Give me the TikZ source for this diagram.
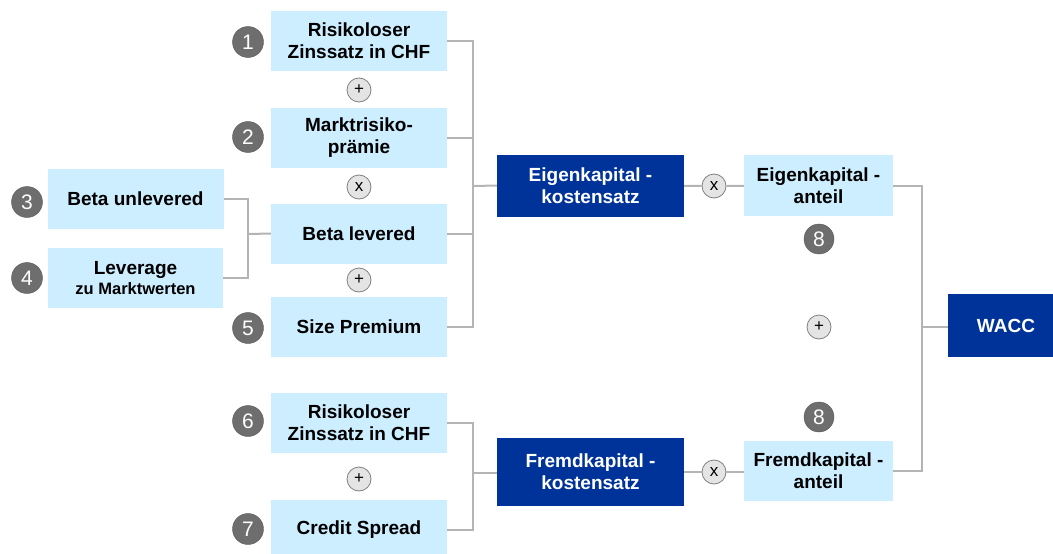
\documentclass[tikz,border=0pt]{standalone}
\usepackage{fontspec}
\setmainfont{Liberation Sans}
\definecolor{boxblue}{HTML}{CCEEFF}
\definecolor{darkblue}{HTML}{003399}
\definecolor{linegray}{HTML}{B4B4B4}
\definecolor{numgray}{HTML}{6E6E6E}
\definecolor{opgray}{HTML}{E4E4E4}
\tikzset{
  lbox/.style={fill=boxblue, minimum width=176pt, minimum height=60pt, inner sep=0pt, align=center, font=\bfseries\fontsize{19}{22}\selectfont},
  dbox/.style={fill=darkblue, text=white, minimum width=187pt, minimum height=62pt, inner sep=0pt, align=center, font=\bfseries\fontsize{19}{22}\selectfont},
  num/.style={circle, fill=numgray, draw=numgray!80!black, text=white, minimum size=31pt, inner sep=0pt, font=\fontsize{21}{21}\selectfont},
  op/.style={circle, fill=opgray, draw=gray, line width=0.8pt, minimum size=24pt, inner sep=0pt, font=\fontsize{17}{17}\selectfont},
  link/.style={draw=linegray, line width=2pt}
}
\begin{document}
\begin{tikzpicture}[x=1pt,y=-1pt]
\clip (0,0) rectangle (1053,554);
\node[lbox] (rf1) at (359,41){Risikoloser\\Zinssatz in CHF};
\node[lbox] (mrp) at (359,137.5){Marktrisiko-\\prämie};
\node[lbox] (bl) at (359,233.5){Beta levered};
\node[lbox] (sp) at (359,326.5){Size Premium};
\node[lbox] (bu) at (135.5,199){Beta unlevered};
\node[lbox, minimum width=175pt, align=center] (lev) at (135.5,278){Leverage\\[-2pt]{\fontsize{16.5}{18}\selectfont zu Marktwerten}};
\node[lbox] (rf2) at (359,422.5){Risikoloser\\Zinssatz in CHF};
\node[lbox] (cs) at (359,530){Credit Spread};
\node[num] (n1) at (248,42){1};
\node[num] (n2) at (248,137){2};
\node[num] (n3) at (27,202){3};
\node[num] (n4) at (27,278){4};
\node[num] (n5) at (248,328){5};
\node[num] (n6) at (248,421){6};
\node[num] (n7) at (248,529){7};
\node[op] (op1) at (359,90){+};
\node[op] (op2) at (359,187){x};
\node[op] (op3) at (359,280){+};
\node[op] (op4) at (359,479){+};
\node[dbox] (ekks) at (590.5,185.5){Eigenkapital -\\kostensatz};
\node[dbox, minimum height=68pt] (fkks) at (590.5,471.5){Fremdkapital -\\kostensatz};
\node[op] (xek) at (714,186){x};
\node[op] (xfk) at (714,472){x};
\node[lbox, minimum width=149pt, minimum height=61pt] (eka) at (818.5,185.5){Eigenkapital -\\anteil};
\node[lbox, minimum width=149pt] (fka) at (818.5,471){Fremdkapital -\\anteil};
\node[num, minimum size=30pt] (n8a) at (819,239){8};
\node[op] (op5) at (819,327){+};
\node[num, minimum size=30pt] (n8b) at (819,417){8};
\node[dbox, minimum width=116pt, minimum height=63pt] (wacc) at (1006,325.5){WACC};
\coordinate (jbeta) at (248,234);
\coordinate (jek) at (473,186);
\coordinate (jfk) at (473,473);
\coordinate (jw) at (922,327);
\draw[link] (bu.east) -| (jbeta);
\draw[link] (lev.east) -| (jbeta);
\draw[link] (jbeta) -- (bl.west);
\draw[link] (rf1.east) -| (jek);
\draw[link] (mrp.east) -| (jek);
\draw[link] (bl.east) -| (jek);
\draw[link] (sp.east) -| (jek);
\draw[link] (jek) -- (ekks.west);
\draw[link] (rf2.east) -| (jfk);
\draw[link] (cs.east) -| (jfk);
\draw[link] (jfk) -- (fkks.west |- jfk);
\draw[link] (ekks) -- (xek) -- (eka);
\draw[link] (fkks.east |- xfk) -- (xfk) -- (fka.west |- xfk);
\draw[link] (eka.east) -| (jw);
\draw[link] (fka.east) -| (jw);
\draw[link] (jw) -- (wacc.west |- jw);
\end{tikzpicture}
\end{document}
